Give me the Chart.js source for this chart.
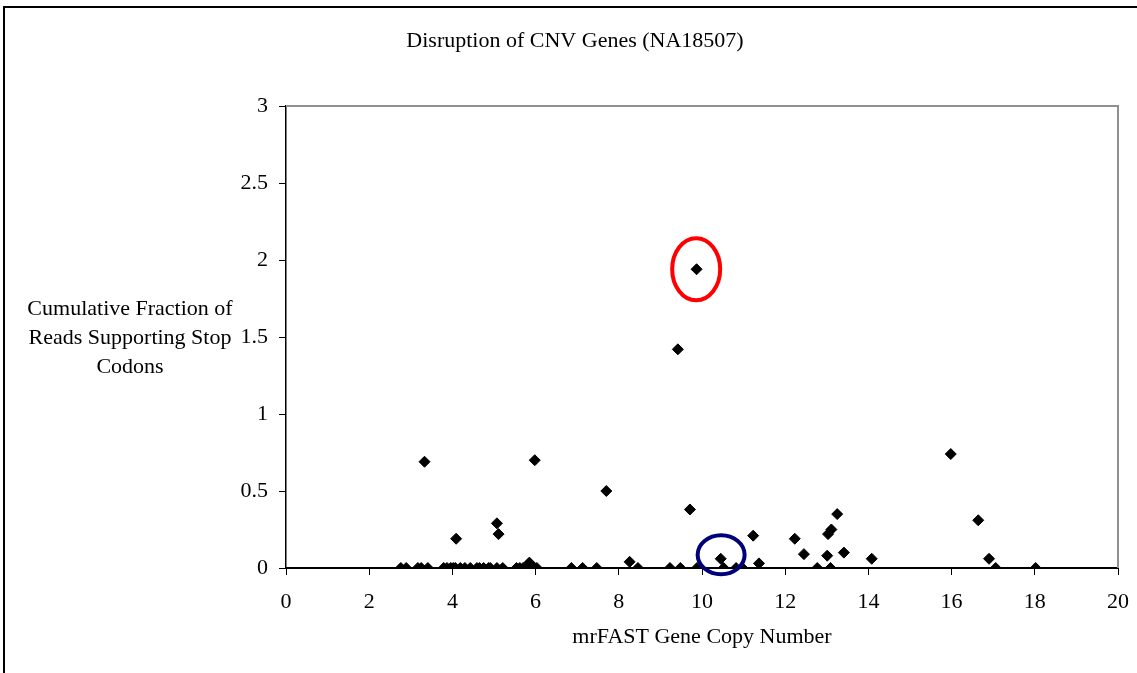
<!DOCTYPE html>
<html>
<head>
<meta charset="utf-8">
<script src="https://cdn.jsdelivr.net/npm/chart.js@4"></script>
<style>
  body { margin: 0; background: #fff; }
  #wrap { width: 1137px; height: 673px; }
</style>
</head>
<body>
<div id="wrap"><canvas id="cnvChart" width="1137" height="673"></canvas></div>
<script>
// gene copy number (x) vs cumulative fraction of reads supporting stop codons (y)
const copyNumber = [
  2.76, 2.89, 3.17, 3.25, 3.41, 3.79, 3.87, 3.96, 4.02, 4.07,
  4.19, 4.30, 4.43, 4.59, 4.65, 4.75, 4.87, 4.91, 5.07, 5.21,
  5.54, 5.62, 5.70, 5.79, 5.97, 6.03, 6.86, 7.13, 7.47, 8.46,
  9.23, 9.48, 9.88, 10.52, 10.82, 10.97, 12.77, 13.09, 17.06, 18.02,
  3.33, 4.09, 5.07, 5.11, 5.85, 5.98, 7.70, 8.26, 9.42, 9.71,
  9.87, 10.45, 11.23, 11.37, 12.23, 12.45, 13.01, 13.03, 13.11, 13.25,
  13.41, 14.08, 15.98, 16.64, 16.90
];
const stopFraction = [
  0, 0, 0, 0, 0, 0, 0, 0, 0, 0,
  0, 0, 0, 0, 0, 0, 0, 0, 0, 0,
  0, 0, 0, 0, 0, 0, 0, 0, 0, 0,
  0, 0, 0, 0, 0, 0, 0, 0, 0, 0,
  0.69, 0.19, 0.29, 0.22, 0.035, 0.70, 0.50, 0.04, 1.42, 0.38,
  1.94, 0.06, 0.21, 0.03, 0.19, 0.09, 0.08, 0.22, 0.25, 0.35,
  0.10, 0.06, 0.74, 0.31, 0.06
];

const yTickLabels = ['0', '0.5', '1', '1.5', '2', '2.5', '3'];
const xTickLabels = ['0', '2', '4', '6', '8', '10', '12', '14', '16', '18', '20'];

// circled genes: [x, y] in data units
const redCircle = [9.86, 1.94];
const blueCircle = [10.46, 0.086];

const chartTitle = 'Disruption of CNV Genes (NA18507)';
const yTitleLines = ['Cumulative Fraction of', 'Reads Supporting Stop', 'Codons'];

const serif = "'Liberation Serif', 'Times New Roman', serif";

const points = copyNumber.map((x, i) => ({ x: x, y: stopFraction[i] }));

const chartDecor = {
  id: 'chartDecor',
  beforeDatasetsDraw(chart) {
    const { ctx, chartArea: a } = chart;
    ctx.save();
    // grey plot frame (top and right)
    ctx.strokeStyle = '#909090';
    ctx.lineWidth = 2;
    ctx.beginPath();
    ctx.moveTo(a.left, a.top);
    ctx.lineTo(a.right, a.top);
    ctx.lineTo(a.right, a.bottom);
    ctx.stroke();
    ctx.restore();
  },
  afterDraw(chart) {
    const { ctx, scales } = chart;
    ctx.save();
    // outer border
    ctx.strokeStyle = '#000';
    ctx.lineWidth = 2;
    ctx.beginPath();
    ctx.moveTo(4, 673);
    ctx.lineTo(4, 7);
    ctx.lineTo(1137, 7);
    ctx.stroke();

    ctx.fillStyle = '#000';
    ctx.font = '22px ' + serif;
    ctx.textAlign = 'center';
    ctx.textBaseline = 'middle';
    // chart title
    ctx.fillText(chartTitle, 575, 41);
    // horizontal y-axis title
    const lineY = [309, 338, 367];
    yTitleLines.forEach((t, i) => ctx.fillText(t, 130, lineY[i]));

    // ellipses around highlighted genes
    const rings = [
      { c: redCircle, color: '#ff0000', rx: 24, ry: 31 },
      { c: blueCircle, color: '#00007a', rx: 23.5, ry: 19.5 }
    ];
    ctx.lineWidth = 4;
    rings.forEach(r => {
      const cx = scales.x.getPixelForValue(r.c[0]);
      const cy = scales.y.getPixelForValue(r.c[1]);
      ctx.strokeStyle = r.color;
      ctx.beginPath();
      ctx.ellipse(cx, cy, r.rx, r.ry, 0, 0, Math.PI * 2);
      ctx.stroke();
    });
    ctx.restore();
  }
};

new Chart(document.getElementById('cnvChart'), {
  type: 'scatter',
  data: {
    datasets: [{
      label: 'Genes',
      data: points,
      pointStyle: 'rectRot',
      pointRadius: 5.5,
      pointHoverRadius: 5.5,
      backgroundColor: '#000',
      borderColor: '#000',
      borderWidth: 1
    }]
  },
  options: {
    responsive: false,
    animation: false,
    layout: { padding: { left: 0, right: 19, top: 106, bottom: 0 } },
    plugins: {
      legend: { display: false },
      tooltip: { enabled: false },
      title: { display: false }
    },
    scales: {
      x: {
        type: 'linear',
        min: 0,
        max: 20,
        afterFit: s => { s.height = 105; s.paddingRight = 0; s.paddingLeft = 0; },
        border: { color: '#000', width: 2 },
        grid: { drawOnChartArea: false, drawTicks: true, tickLength: 7, color: '#000' },
        ticks: {
          stepSize: 2,
          padding: 14,
          color: '#000',
          font: { family: serif, size: 22 },
          callback: (v, i) => xTickLabels[i]
        },
        title: {
          display: true,
          text: 'mrFAST Gene Copy Number',
          color: '#000',
          font: { family: serif, size: 22 },
          padding: { top: 0, bottom: 23 }
        }
      },
      y: {
        type: 'linear',
        min: 0,
        max: 3,
        afterFit: s => { s.width = 286; },
        border: { color: '#000', width: 1.5 },
        grid: { drawOnChartArea: false, drawTicks: true, tickLength: 7, color: '#000' },
        ticks: {
          stepSize: 0.5,
          padding: 11,
          color: '#000',
          font: { family: serif, size: 22 },
          callback: (v, i) => yTickLabels[i]
        }
      }
    }
  },
  plugins: [chartDecor]
});
</script>
</body>
</html>
